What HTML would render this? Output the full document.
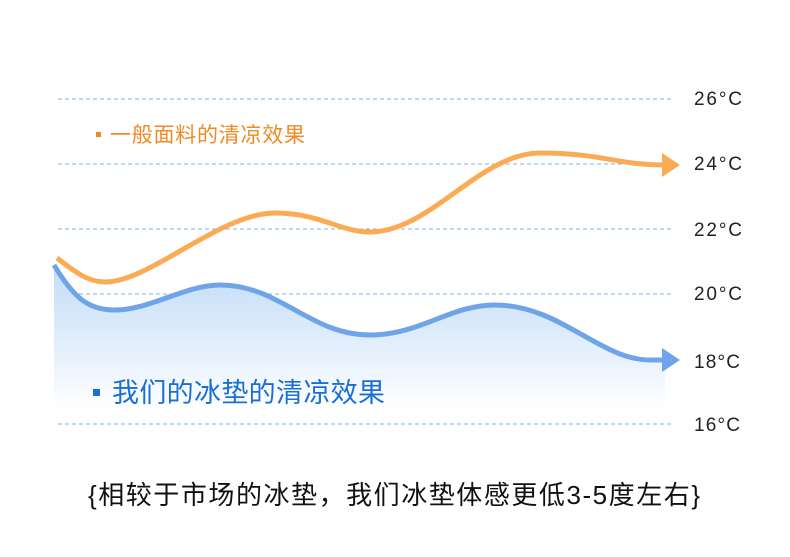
<!DOCTYPE html>
<html><head><meta charset="utf-8"><style>
body{margin:0;width:790px;height:557px;background:#fff;overflow:hidden}
svg{display:block}
text{font-family:"Liberation Sans","Noto Sans CJK SC",sans-serif}
</style></head><body>
<svg width="790" height="557" viewBox="0 0 790 557">
<defs>
<linearGradient id="g" x1="0" y1="0" x2="0" y2="1">
<stop offset="0" stop-color="#bcd9f7" stop-opacity="0.9"/>
<stop offset="1" stop-color="#ffffff" stop-opacity="1"/>
</linearGradient>
</defs>
<g stroke="#7fb0e8" stroke-width="1" stroke-dasharray="4,3">
<line x1="58" y1="99" x2="672" y2="99"/>
<line x1="58" y1="164" x2="672" y2="164"/>
<line x1="58" y1="229" x2="672" y2="229"/>
<line x1="58" y1="294" x2="672" y2="294"/>
<line x1="58" y1="359" x2="672" y2="359"/>
<line x1="58" y1="424" x2="672" y2="424"/>
</g>
<path d="M54,265 C75,300 90,310 115,310 C150,310 185,285 220,285 C280,285 310,335 370,335 C420,335 450,305 495,305 C560,305 600,360 650,360 L665,360 L665,410 L54,410 Z" fill="url(#g)"/>
<path d="M57,258 C75,272 88,282 105,282 C150,282 220,213 275,213 C320,213 340,232 370,232 C430,232 480,153 540,153 C600,153 620,165 662,165" fill="none" stroke="#fcab55" stroke-width="5"/>
<path d="M662,153 L680,165 L662,177 Z" fill="#fcab55"/>
<path d="M54,265 C75,300 90,310 115,310 C150,310 185,285 220,285 C280,285 310,335 370,335 C420,335 450,305 495,305 C560,305 600,360 650,360 L662,360" fill="none" stroke="#6fa4e8" stroke-width="5"/>
<path d="M662,348 L680,360 L662,372 Z" fill="#6fa4e8"/>
<g font-size="19" fill="#222" textLength="48">
<text x="694" y="105" textLength="48">26°C</text>
<text x="694" y="170" textLength="48">24°C</text>
<text x="694" y="236" textLength="48">22°C</text>
<text x="694" y="300" textLength="48">20°C</text>
<text x="694" y="368" textLength="46">18°C</text>
<text x="694" y="431" textLength="46">16°C</text>
</g>
<rect x="96" y="132" width="5" height="5" fill="#f08a24"/>
<text x="110" y="142" font-size="21" fill="#f08a24" textLength="195">一般面料的清凉效果</text>
<rect x="93" y="389" width="7" height="7" fill="#1a6fd6"/>
<text x="112" y="402" font-size="27" fill="#1a6fd6" textLength="273">我们的冰垫的清凉效果</text>
<text x="88" y="504" font-size="26" fill="#111" textLength="612">{相较于市场的冰垫，我们冰垫体感更低3-5度左右}</text>
</svg>
</body></html>
